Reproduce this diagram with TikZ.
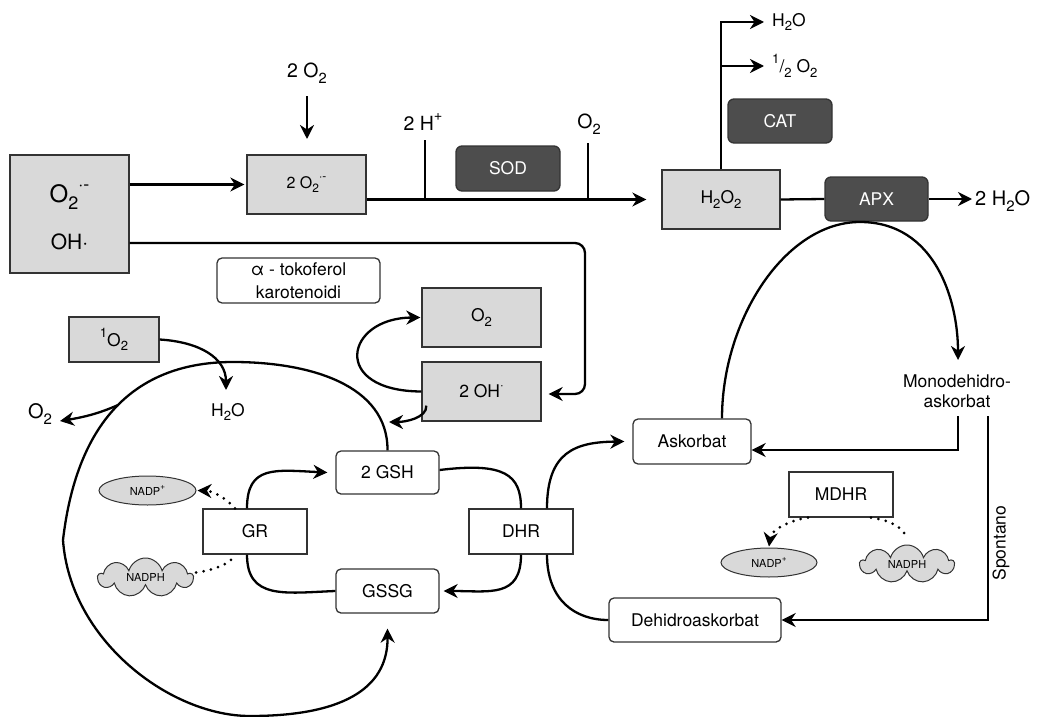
\documentclass[tikz,border=0pt]{standalone}
\usepackage{fontspec}
\setmainfont{TeX Gyre Heros}
\usepackage{graphicx}
\usetikzlibrary{arrows.meta,shapes.geometric,shapes.symbols}
\definecolor{lg}{HTML}{D9D9D9}
\definecolor{dg}{HTML}{4D4D4D}
\definecolor{bd}{HTML}{333333}
\newcommand{\subx}[1]{\raisebox{-0.28em}{\scalebox{0.75}{#1}}}
\newcommand{\supx}[1]{\raisebox{0.5em}{\scalebox{0.75}{#1}}}
\newcommand{\fs}[1]{\fontsize{#1}{#1}\selectfont}
\begin{document}
\begin{tikzpicture}[x=1pt,y=-1pt,
  every node/.style={font=\fs{17.5}, inner sep=0pt},
  gbox/.style={draw=bd, line width=1.3pt, fill=lg},
  wbox/.style={draw=bd, line width=1.3pt, fill=white},
  rbox/.style={wbox, rounded corners=5pt},
  dbox/.style={draw=bd, line width=1.3pt, fill=dg, text=white, rounded corners=6pt},
  conn/.style={line width=2.3pt, black},
  arr/.style={-{Stealth[length=14pt,width=14pt,inset=4.5pt]}},
  dots/.style={line width=3pt, dash pattern=on 0pt off 7.5pt, line cap=round},
  smallf/.style={font=\fs{11}},
  ]
\useasboundingbox (0,0) rectangle (1041,717);

% ---------- top row ----------
\node[gbox, minimum width=119pt, minimum height=118pt] (ros) at (69.5,214) {};
\node[font=\fs{24}] (rosa) at (69.5,197) {O\subx{2}\supx{·-}};
\node[font=\fs{21}] (rosb) at (69.5,242) {OH·};

\node[gbox, minimum width=119pt, minimum height=59pt, font=\fs{16}] (o2m) at (306.5,184.5) {2 O\subx{2}\supx{·-}};
\node[font=\fs{19.5}] (l2o2) at (307,73) {2 O\subx{2}};
\coordinate (a2o2s) at (307,96);
\coordinate (a2o2e) at (307,139);

\node[gbox, minimum width=118pt, minimum height=59pt] (h2o2) at (721,199.5) {H\subx{2}O\subx{2}};
\node[dbox, minimum width=104pt, minimum height=45pt] (sod) at (508,168.5) {SOD};
\node[dbox, minimum width=104pt, minimum height=44pt] (cat) at (780,121) {CAT};
\node[dbox, minimum width=103pt, minimum height=44pt] (apx) at (876.5,199) {APX};

\node[font=\fs{19.5}] (l2h) at (423,122) {2 H\supx{+}};
\node[font=\fs{19.5}] (lo2) at (589,124) {O\subx{2}};
\coordinate (tk1) at (425,140);
\coordinate (tk2) at (588,143);

\node[font=\fs{20}, anchor=west] (h2oR) at (975,201) {2 H\subx{2}O};
\node[anchor=west] (h2oT) at (772,22) {H\subx{2}O};
\node[anchor=west] (half) at (772,66) {\supx{1}/\subx{2} O\subx{2}};

% ---------- middle ----------
\node[rbox, minimum width=163pt, minimum height=45pt, align=center, font=\fontsize{17.5}{23}\selectfont] (toco) at (298.5,280.5) {α - tokoferol\\karotenoidi};
\node[gbox, minimum width=119pt, minimum height=59pt] (o2box) at (481.5,317.5) {O\subx{2}};
\node[gbox, minimum width=119pt, minimum height=59pt] (ohbox) at (481.5,391.5) {2 OH\supx{·}};
\node[gbox, minimum width=90pt, minimum height=45pt] (so) at (114,339.5) {\supx{1}O\subx{2}};
\node (h2oL) at (228,412) {H\subx{2}O};
\node[font=\fs{20}] (o2L) at (40,414) {O\subx{2}};
\coordinate (ohc) at (585,243);
\coordinate (h2oTip) at (226,390);
\coordinate (loopTip) at (389,422);
\coordinate (o2Tip) at (60,421);

% ---------- glutathione cycle ----------
\node[rbox, minimum width=103pt, minimum height=43pt] (gsh) at (387.5,472.5) {2 GSH};
\node[rbox, minimum width=103pt, minimum height=44pt] (gssg) at (387.5,591) {GSSG};
\node[wbox, minimum width=104pt, minimum height=45pt] (gr) at (255,531.5) {GR};
\node[wbox, minimum width=104pt, minimum height=45pt] (dhr) at (521,531.5) {DHR};
\node[ellipse, draw=bd, fill=lg, line width=1pt, minimum width=97pt, minimum height=29pt, smallf] (nadpL) at (147.5,490.5) {NADP\supx{+}};
\node[cloud, cloud puffs=9, aspect=2.4, draw=bd, fill=lg, line width=1pt, minimum width=95pt, minimum height=39pt, smallf] (nadphL) at (145.5,577.5) {NADPH};

% ---------- ascorbate ----------
\node[rbox, minimum width=118pt, minimum height=45pt] (asc) at (692,441.5) {Askorbat};
\node[rbox, minimum width=172pt, minimum height=44pt] (dha) at (695,620) {Dehidroaskorbat};
\node[wbox, minimum width=104pt, minimum height=45pt] (mdhr) at (841,494.5) {MDHR};
\node[ellipse, draw=bd, fill=lg, line width=1pt, minimum width=96pt, minimum height=29pt, smallf] (nadpR) at (769,562.5) {NADP\supx{+}};
\node[cloud, cloud puffs=9, aspect=2.4, draw=bd, fill=lg, line width=1pt, minimum width=94pt, minimum height=38pt, smallf] (nadphR) at (907,564) {NADPH};
\node[align=center, font=\fontsize{17.5}{20.5}\selectfont] (mda) at (957,391) {Monodehidro-\\askorbat};
\node[rotate=90] (spont) at (1001,543) {Spontano};
\coordinate (mdaTip) at (958,360);
\coordinate (mdaA) at (958,416);
\coordinate (mdaB) at (988,416);

% ---------- connectors: top ----------
\draw[conn,arr] (ros.east |- o2m.west) -- ([xshift=-2pt]o2m.west);
\draw[conn,arr] (a2o2s) -- (a2o2e);
\draw[conn,arr] (o2m.east |- h2o2.west) -- ([xshift=-15pt]h2o2.west);
\draw[conn] (tk1) -- (tk1 |- h2o2.west);
\draw[conn] (tk2) -- (tk2 |- h2o2.west);
\draw[conn,arr] (h2o2.north) -- (h2o2.north |- h2oT.west) -- ([xshift=-8pt]h2oT.west);
\draw[conn,arr] (h2o2.north |- half.west) -- ([xshift=-8pt]half.west);
\draw[conn] (h2o2.east) -- (apx.west);
\draw[conn,arr] (apx.east) -- ([xshift=-3pt,yshift=2pt]h2oR.west);

% OH line to 2 OH
\draw[conn,arr,rounded corners=10pt] ([yshift=-29pt]ros.east) -- (ohc) -- (ohc |- 0,394) -- ([xshift=7pt,yshift=-2.5pt]ohbox.east);

% 2 OH -> O2 and -> loop
\draw[conn,arr] (ohbox.west) .. controls (330,391) and (345,318) .. ([xshift=-1pt]o2box.west);
\draw[conn,arr] ([xshift=5pt,yshift=16pt]ohbox.south west) .. controls (427,418) and (405,422) .. (loopTip);

% 1O2 -> H2O
\draw[conn,arr] (so.east) .. controls (200,342) and (226,358) .. (h2oTip);

% big loop from 2 GSH round to GSSG
\draw[conn,arr] (gsh.north) .. controls (388,385) and (310,362) .. (233,362)
  .. controls (160,362) and (80,395) .. coordinate[pos=0.55] (loopO2) (63,540)
  .. controls (70,640) and (170,716) .. (250,716)
  .. controls (340,716) and (388,690) .. ([yshift=-15pt]gssg.south);
\draw[conn,arr] (loopO2) .. controls (100,413) and (85,417) .. (o2Tip);

% glutathione cycle
\draw[conn,arr] ([xshift=-8pt]gr.north) .. controls (247,465) and (275,470) .. ([xshift=-8pt]gsh.west);
\draw[conn] ([xshift=-8pt]gr.south) .. controls (247,600) and (285,593) .. (gssg.west);
\draw[conn] ([yshift=2.5pt]gsh.east) .. controls (505,462) and (521,475) .. (dhr.north);
\draw[conn,arr] (dhr.south) .. controls (521,598) and (490,591) .. ([xshift=4pt]gssg.east);
\draw[conn,arr] ([xshift=26pt]dhr.north) .. controls (547,452) and (575,442) .. ([xshift=-8pt]asc.west);
\draw[conn] ([xshift=26pt]dhr.south) .. controls (547,600) and (575,620) .. (dha.west);

% dotted NADP
\draw[dots,arr] ([xshift=-20pt]gr.north) .. controls (225,497) and (212,491) .. ([xshift=1pt]nadpL.east);
\draw[dots] ([xshift=2pt,yshift=5pt]nadphL.east) .. controls (215,570) and (232,563) .. ([xshift=-20pt]gr.south);
\draw[dots,arr] ([xshift=-33pt]mdhr.south) .. controls (790,520) and (771,530) .. ([yshift=1pt]nadpR.north);
\draw[dots] ([xshift=30pt]mdhr.south) .. controls (890,520) and (905,528) .. ([yshift=5pt]nadphR.north);

% ascorbate arcs
\draw[conn,arr] ([xshift=30pt]asc.north) .. controls (722,320) and (785,222) .. (860,222)
  .. controls (935,222) and (958,300) .. (mdaTip);
\draw[conn,arr] (mdaA) -- (mdaA |- 0,450) -- ([yshift=-8.5pt]asc.east);
\draw[conn,arr] (mdaB) -- (mdaB |- dha.east) -- (dha.east);
\end{tikzpicture}
\end{document}
